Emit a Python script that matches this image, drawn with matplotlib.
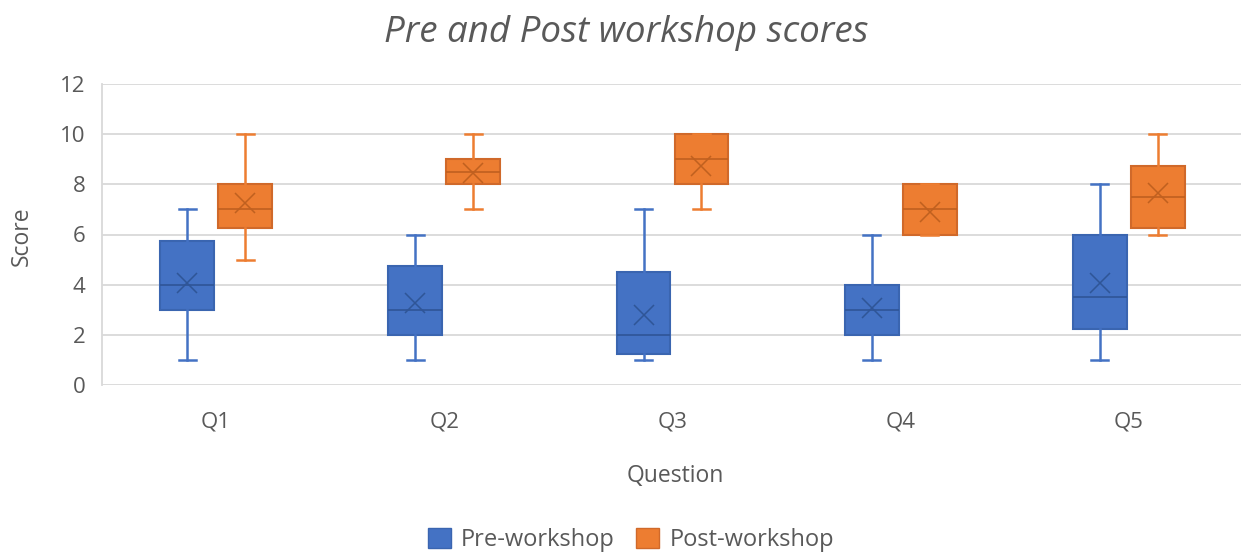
import matplotlib
matplotlib.use("Agg")
import matplotlib.pyplot as plt
from matplotlib.patches import Patch
import numpy as np

plt.rcParams['font.family'] = ['Open Sans', 'DejaVu Sans']

questions = ["Q1", "Q2", "Q3", "Q4", "Q5"]
series_names = ["Pre-workshop", "Post-workshop"]

pre_min = [1, 1, 1, 1, 1]
pre_q1 = [3, 2, 1.25, 2, 2.25]
pre_med = [4, 3, 2, 3, 3.5]
pre_q3 = [5.75, 4.75, 4.5, 4, 6]
pre_max = [7, 6, 7, 6, 8]
pre_mean = [4.05, 3.25, 2.8, 3.05, 4.05]

post_min = [5, 7, 7, 6, 6]
post_q1 = [6.25, 8, 8, 6, 6.25]
post_med = [7, 8.5, 9, 7, 7.5]
post_q3 = [8, 9, 10, 8, 8.75]
post_max = [10, 10, 10, 8, 10]
post_mean = [7.25, 8.45, 8.75, 6.9, 7.65]

yticks = [0, 2, 4, 6, 8, 10, 12]

W, H = 1241, 554
fig = plt.figure(figsize=(W / 100, H / 100), dpi=100)
ax = fig.add_axes([102 / W, (H - 385) / H, (1243 - 102) / W, (385 - 84) / H])

text_c = "#595959"
grid_c = "#D9D9D9"

styles = [
    dict(face="#4472C4", edge="#3A65B0", line="#2F5597"),
    dict(face="#ED7D31", edge="#D0692A", line="#C0601F"),
]
data = [
    (pre_min, pre_q1, pre_med, pre_q3, pre_max, pre_mean),
    (post_min, post_q1, post_med, post_q3, post_max, post_mean),
]
offsets = [-0.127, 0.127]
x = np.arange(1, len(questions) + 1)

for (mn, a, md, b, mx, mean), off, st in zip(data, offsets, styles):
    stats = []
    for i in range(len(questions)):
        stats.append(dict(whislo=mn[i], q1=a[i], med=md[i], q3=b[i],
                          whishi=mx[i], mean=mean[i], fliers=[]))
    pos = x + off
    ax.bxp(stats, positions=pos, widths=0.236, capwidths=0.075,
           patch_artist=True, showmeans=False, showfliers=False,
           boxprops=dict(facecolor=st["face"], edgecolor=st["edge"], linewidth=1.5),
           medianprops=dict(color=st["line"], linewidth=1.2),
           whiskerprops=dict(color=st["face"], linewidth=1.8),
           capprops=dict(color=st["face"], linewidth=1.8),
           manage_ticks=False, zorder=3)
    ax.plot(pos, mean, linestyle="none", marker="x", markersize=14,
            markeredgewidth=1.1, color=st["line"], zorder=4)

ax.set_xlim(0.5, len(questions) + 0.5)
ax.set_ylim(0, 12)
ax.set_yticks(yticks)
ax.set_xticks(x)
ax.set_xticklabels(questions)
ax.grid(axis="y", color=grid_c, linewidth=1.3, zorder=0)
ax.set_axisbelow(True)
for s in ["top", "right", "bottom"]:
    ax.spines[s].set_visible(False)
ax.spines["left"].set_color(grid_c)
ax.spines["left"].set_linewidth(1.3)
ax.tick_params(axis="both", length=0, labelsize=16, colors=text_c)
ax.tick_params(axis="y", pad=12)
ax.tick_params(axis="x", pad=19)

fig.text(626 / W, 1 - 33 / H, "Pre and Post workshop scores", ha="center", va="center",
         fontsize=26.5, style="italic", color=text_c)
fig.text(22 / W, 1 - 236 / H, "Score", rotation=90, ha="center", va="center",
         fontsize=16.5, color=text_c)
fig.text(675 / W, 1 - 476 / H, "Question", ha="center", va="center",
         fontsize=16.5, color=text_c)

handles = [Patch(facecolor=styles[0]["face"], edgecolor=styles[0]["edge"]),
           Patch(facecolor=styles[1]["face"], edgecolor=styles[1]["edge"])]
leg = fig.legend(handles, series_names, loc="center", bbox_to_anchor=(631 / W, 1 - 540 / H),
                 ncol=2, frameon=False, fontsize=17, handlelength=0.95, handleheight=0.95,
                 handletextpad=0.45, columnspacing=0.9)
for t in leg.get_texts():
    t.set_color(text_c)

fig.savefig("out.png", dpi=100)
